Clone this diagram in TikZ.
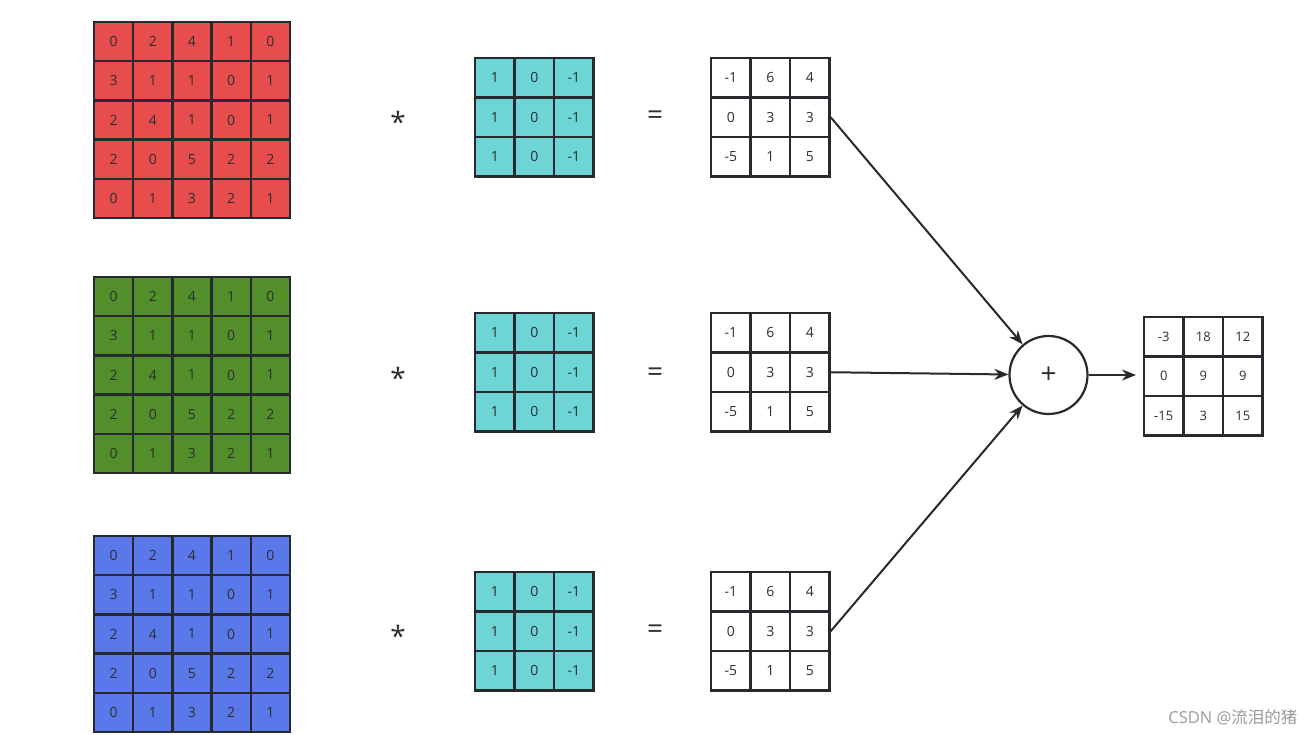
\documentclass[tikz,border=0pt]{standalone}
\usepackage{fontspec}
\setmainfont{Open Sans}
\newfontfamily\cjkfont{Noto Sans CJK SC}
\usetikzlibrary{arrows.meta}
\definecolor{cred}{HTML}{E84D4D}
\definecolor{cgreen}{HTML}{528F2A}
\definecolor{cblue}{HTML}{5B78EA}
\definecolor{ccyan}{HTML}{6DD5D6}
\definecolor{cline}{HTML}{262A2E}
\definecolor{ctext}{HTML}{2E2E2E}
\definecolor{cwm}{HTML}{9A9A9A}
\newcommand\drawgrid[7]{%
  \foreach \rowvals [count=\i] in {#7} {
    \foreach \v [count=\j] in \rowvals {
      \node[cell, fill=#5, minimum width=#4pt, minimum height=#4pt, font=#6]
        (#1-\i-\j) at ({#2+(\j-0.5)*#4},{#3+(\i-0.5)*#4}) {\v};
    }
  }%
}
\begin{document}
\begin{tikzpicture}[x=1pt,y=-1pt,
  cell/.style={draw=cline, line width=2.4pt, inner sep=0pt, text=ctext},
  opsym/.style={text=ctext, font=\fontsize{28}{30}\selectfont},
  conn/.style={draw=cline, line width=2pt, -{Stealth[length=14pt,width=11pt]}},
  sumnode/.style={circle, draw=cline, line width=2.2pt, minimum size=78pt, inner sep=0pt, fill=white, text=ctext, font=\fontsize{28}{30}\selectfont}]
\useasboundingbox (0,0) rectangle (1315,735);
\fill[white] (0,0) rectangle (1315,735);
% inputs
\drawgrid{inR}{94}{22}{39.2}{cred}{\fontsize{14}{16}\selectfont}{{0,2,4,1,0},{3,1,1,0,1},{2,4,1,0,1},{2,0,5,2,2},{0,1,3,2,1}}
\drawgrid{inG}{94}{277}{39.2}{cgreen}{\fontsize{14}{16}\selectfont}{{0,2,4,1,0},{3,1,1,0,1},{2,4,1,0,1},{2,0,5,2,2},{0,1,3,2,1}}
\drawgrid{inB}{94}{536}{39.2}{cblue}{\fontsize{14}{16}\selectfont}{{0,2,4,1,0},{3,1,1,0,1},{2,4,1,0,1},{2,0,5,2,2},{0,1,3,2,1}}
% kernels
\drawgrid{kR}{475}{58}{39.5}{ccyan}{\fontsize{14}{16}\selectfont}{{1,0,-1},{1,0,-1},{1,0,-1}}
\drawgrid{kG}{475}{313}{39.5}{ccyan}{\fontsize{14}{16}\selectfont}{{1,0,-1},{1,0,-1},{1,0,-1}}
\drawgrid{kB}{475}{572}{39.5}{ccyan}{\fontsize{14}{16}\selectfont}{{1,0,-1},{1,0,-1},{1,0,-1}}
% results
\drawgrid{oR}{711}{58}{39.5}{white}{\fontsize{14}{16}\selectfont}{{-1,6,4},{0,3,3},{-5,1,5}}
\drawgrid{oG}{711}{313}{39.5}{white}{\fontsize{14}{16}\selectfont}{{-1,6,4},{0,3,3},{-5,1,5}}
\drawgrid{oB}{711}{572}{39.5}{white}{\fontsize{14}{16}\selectfont}{{-1,6,4},{0,3,3},{-5,1,5}}
% final
\drawgrid{fin}{1144}{317}{39.5}{white}{\fontsize{13}{15}\selectfont}{{-3,18,12},{0,9,9},{-15,3,15}}
% operators
\node[opsym] (starR) at (398,122) {*};
\node[opsym] (starG) at (398,378) {*};
\node[opsym] (starB) at (398,636) {*};
\node[opsym] (eqR) at (655,118) {=};
\node[opsym] (eqG) at (655,375) {=};
\node[opsym] (eqB) at (655,632) {=};
% sum
\node[sumnode] (plus) at (1048.5,375) {+};
\coordinate (finIn) at (1136,375);
\draw[conn] (oR-2-3.east) -- (plus);
\draw[conn] (oG-2-3.east) -- (plus);
\draw[conn] (oB-2-3.east) -- (plus);
\draw[conn] (plus.east) -- (finIn);
% watermark
\node[text=cwm, font=\fontsize{16.5}{18}\selectfont, anchor=east] (wm) at (1301,717) {CSDN @{\cjkfont 流泪的猪}};
\end{tikzpicture}
\end{document}
